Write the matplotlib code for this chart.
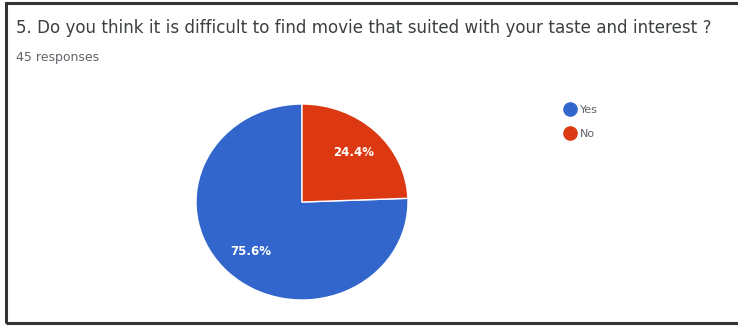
import matplotlib
matplotlib.use("Agg")
import matplotlib.pyplot as plt
from matplotlib.lines import Line2D
from matplotlib.patches import Rectangle

# data
labels = ["Yes", "No"]
shares = [75.6, 24.4]
colors = ["#3366cc", "#dc3912"]
title = "5. Do you think it is difficult to find movie that suited with your taste and interest ?"
subtitle = "45 responses"

plt.rcParams["font.family"] = ["DejaVu Sans"]

W, H = 738, 326
fig = plt.figure(figsize=(W / 100, H / 100), dpi=100, facecolor="white")

# card border (right edge runs off the picture)
fig.patches.append(Rectangle((6 / W, 3 / H), 1.2, 1 - 6 / H, transform=fig.transFigure,
                             fill=False, edgecolor="#333333", linewidth=2.2))

fig.text(16 / W, 1 - 28 / H, title, fontsize=12.1, color="#3c4043", va="center")
fig.text(16 / W, 1 - 58 / H, subtitle, fontsize=9, color="#5f6368", va="center")

ax = fig.add_axes([196 / W, 26 / H, 212 / W, 196 / H])
wedges, _, autotexts = ax.pie(shares, colors=colors, startangle=90, counterclock=True,
                              autopct="%1.1f%%", pctdistance=0.7,
                              wedgeprops=dict(edgecolor="white", linewidth=1.0),
                              textprops=dict(color="white", fontsize=8.5, fontweight="bold"))
ax.set_aspect("auto")
ax.set_xlim(-1, 1)
ax.set_ylim(-1, 1)

handles = [Line2D([], [], marker="o", linestyle="", markersize=9.5,
                  markerfacecolor=c, markeredgecolor=c) for c in colors]
fig.legend(handles, labels, loc="upper left", bbox_to_anchor=(563 / W, 1 - 105 / H),
           frameon=False, fontsize=8, labelcolor="#5f6368", handletextpad=0.35,
           labelspacing=1.25, handlelength=1.2, borderaxespad=0, borderpad=0)

fig.savefig("out.png", dpi=100, facecolor="white")
